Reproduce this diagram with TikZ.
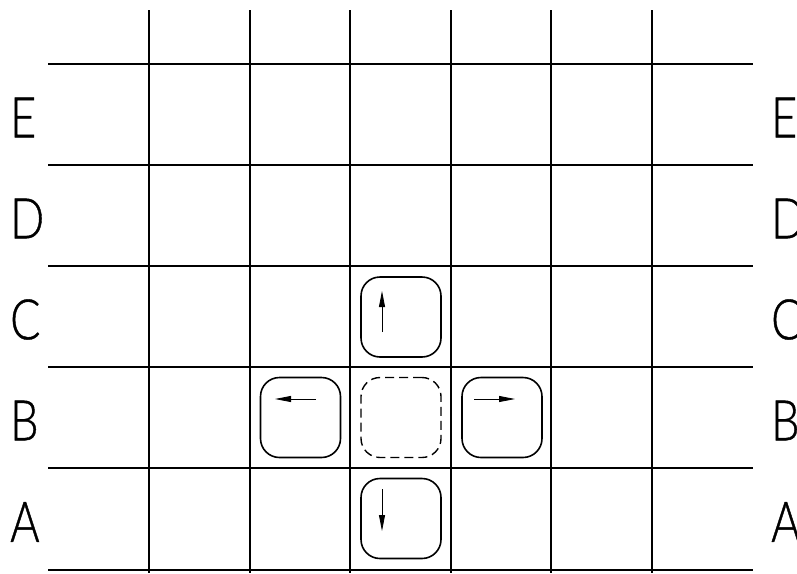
\documentclass[tikz,border=0pt]{standalone}
\usepackage{fontspec}
\newfontfamily\lbl[FakeStretch=0.8,FakeBold=0.7]{Lato Light}
\usetikzlibrary{arrows.meta,calc}
\begin{document}
\begin{tikzpicture}[x=1pt,y=-1pt,
  gridline/.style={line width=1.2pt},
  keybox/.style={draw,line width=1.6pt,rounded corners=19pt,minimum width=80pt,minimum height=80pt,inner sep=0pt},
  ghost/.style={keybox,line width=1.4pt,dash pattern=on 9pt off 5pt},
  dirarrow/.style={line width=0.8pt,-{Triangle[length=16pt,width=6pt]}},
  rowlabel/.style={inner sep=0pt,anchor=west,font=\lbl\fontsize{56}{56}\selectfont}]
\useasboundingbox (0,0) rectangle (797,573);
% grid
\foreach \y in {64,165,266,367,468,570} \draw[gridline] (48,\y) -- (753,\y);
\foreach \x in {149,250,350,451,551,652} \draw[gridline] (\x,10) -- (\x,573);
% row labels
\foreach \t/\y in {E/117.5,D/218.5,C/319.5,B/420.5,A/522} {
  \node[rowlabel] (L\t) at (10,\y) {\t};
  \node[rowlabel] (R\t) at (771,\y) {\t};
}
% keys
\node[keybox] (up) at (401,317) {};
\node[keybox] (left) at (300.5,417.5) {};
\node[ghost] (mid) at (401,417.5) {};
\node[keybox] (right) at (502,417.5) {};
\node[keybox] (down) at (401,518.5) {};
% arrows
\draw[dirarrow] ($(up.center)+(-19,15)$) -- ($(up.center)+(-19,-26)$);
\draw[dirarrow] ($(down.center)+(-19,-29.5)$) -- ($(down.center)+(-19,12.5)$);
\draw[dirarrow] ($(left.center)+(15.5,-18.5)$) -- ($(left.center)+(-25.5,-18.5)$);
\draw[dirarrow] ($(right.center)+(-28,-18.5)$) -- ($(right.center)+(13,-18.5)$);
\end{tikzpicture}
\end{document}
